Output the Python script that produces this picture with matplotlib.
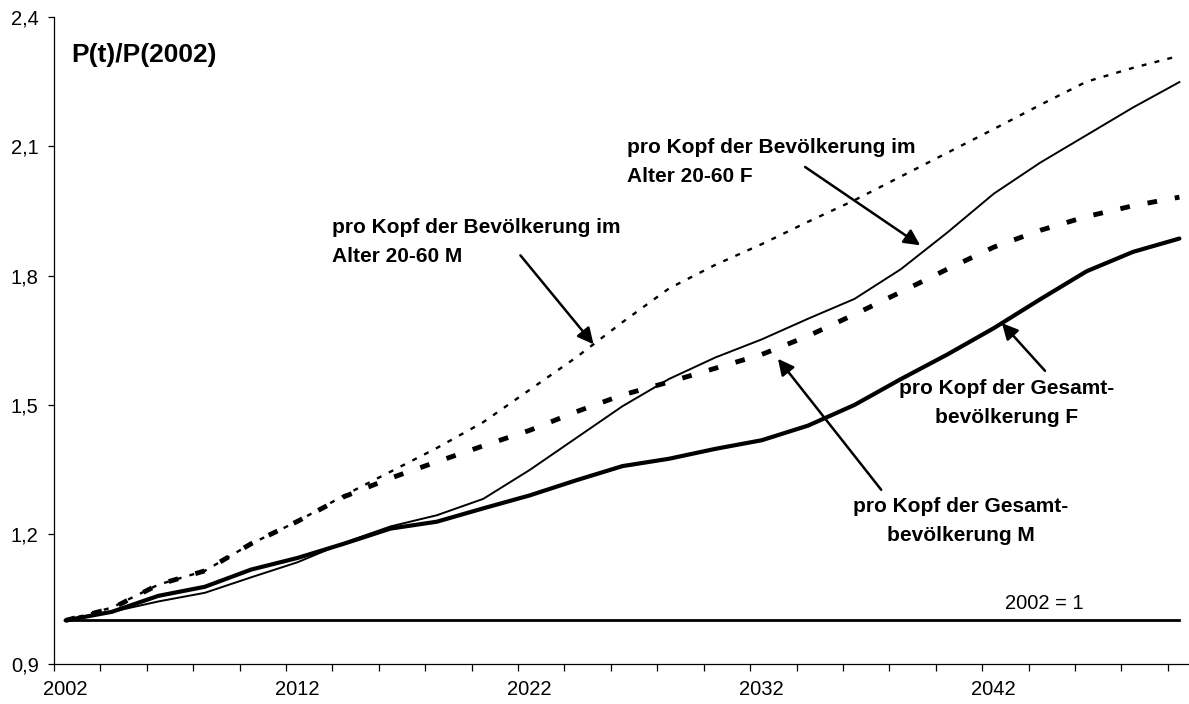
import numpy as np
import matplotlib
matplotlib.use("Agg")
import matplotlib.pyplot as plt

plt.rcParams['font.family'] = ['Liberation Sans', 'DejaVu Sans']

# values, every second year
years = np.arange(2002, 2051, 2)
alter_m = [1.000, 1.030, 1.083, 1.115, 1.178, 1.230, 1.290, 1.345, 1.400, 1.460,
           1.535, 1.610, 1.692, 1.770, 1.825, 1.873, 1.925, 1.975, 2.030, 2.085,
           2.140, 2.196, 2.250, 2.282, 2.310]
alter_f = [1.000, 1.020, 1.044, 1.064, 1.100, 1.135, 1.180, 1.218, 1.244, 1.282,
           1.349, 1.423, 1.497, 1.560, 1.610, 1.652, 1.700, 1.746, 1.815, 1.900,
           1.990, 2.062, 2.126, 2.190, 2.249]
gesamt_m = [1.000, 1.028, 1.083, 1.115, 1.178, 1.230, 1.287, 1.330, 1.368, 1.405,
            1.441, 1.484, 1.523, 1.553, 1.585, 1.617, 1.660, 1.710, 1.762, 1.815,
            1.866, 1.905, 1.937, 1.962, 1.982]
gesamt_f = [1.000, 1.020, 1.057, 1.078, 1.118, 1.145, 1.178, 1.213, 1.229, 1.260,
            1.290, 1.325, 1.358, 1.375, 1.398, 1.418, 1.452, 1.500, 1.560, 1.617,
            1.678, 1.745, 1.810, 1.855, 1.886]
base = [1.0] * len(years)

y_ticks = [0.9, 1.2, 1.5, 1.8, 2.1, 2.4]
x_labels = [2002, 2012, 2022, 2032, 2042]

fig = plt.figure(figsize=(11.89, 7.04), dpi=100)
ax = fig.add_axes([54 / 1189, 40.5 / 704, 1137 / 1189, 646.5 / 704])

ax.plot(years, base, color='black', lw=2.0)
ax.plot(years, alter_m, color='black', lw=1.7, dashes=(2.1, 3.5))
ax.plot(years, gesamt_m, color='black', lw=3.5, dashes=(2.0, 3.7))
ax.plot(years, alter_f, color='black', lw=1.4)
ax.plot(years, gesamt_f, color='black', lw=3.0, solid_capstyle='round')

ax.set_xlim(2001.5, 2050.5)
ax.set_ylim(0.9, 2.4)
for s in ['top', 'right']:
    ax.spines[s].set_visible(False)
for s in ['left', 'bottom']:
    ax.spines[s].set_linewidth(0.9)

ax.set_yticks(y_ticks)
ax.set_yticklabels([f"{v:.1f}".replace('.', ',') for v in y_ticks], fontsize=14.5)
ax.tick_params(axis='y', direction='out', length=4, width=0.9, pad=7)

ax.set_xticks(np.arange(2001.5, 2050, 2))
ax.set_xticklabels([])
ax.tick_params(axis='x', which='major', direction='out', length=5, width=0.9)
ax.set_xticks(x_labels, minor=True)
ax.set_xticklabels([str(y) for y in x_labels], minor=True, fontsize=14.5)
ax.tick_params(axis='x', which='minor', length=0, pad=12)

ax.text(2002.26, 2.295, "P(t)/P(2002)", fontsize=19, fontweight='bold', va='baseline')
ax.text(2044.17, 1.027, "2002 = 1", fontsize=14.5, ha='center', va='baseline')

arrow = dict(arrowstyle='-|>', color='black', lw=1.8, mutation_scale=24, shrinkA=0, shrinkB=0)
# va='baseline' puts the last line on the given y
lab = dict(fontsize=15, fontweight='bold', va='baseline', linespacing=1.67)

ax.text(2013.48, 1.832, "pro Kopf der Bevölkerung im\nAlter 20-60 M", ha='left', **lab)
ax.annotate("", xy=(2024.75, np.interp(2024.75, years, alter_m)), xytext=(2021.6, 1.847),
            arrowprops=arrow)

ax.text(2026.21, 2.017, "pro Kopf der Bevölkerung im\nAlter 20-60 F", ha='left', **lab)
ax.annotate("", xy=(2038.83, np.interp(2038.83, years, alter_f) + 0.02), xytext=(2033.87, 2.052),
            arrowprops=arrow)

ax.text(2042.56, 1.459, "pro Kopf der Gesamt-\nbevölkerung F", ha='center', multialignment='center', **lab)
ax.annotate("", xy=(2042.35, np.interp(2042.35, years, gesamt_f)), xytext=(2044.21, 1.579),
            arrowprops=arrow)

ax.text(2040.58, 1.184, "pro Kopf der Gesamt-\nbevölkerung M", ha='center', multialignment='center', **lab)
ax.annotate("", xy=(2032.7, np.interp(2032.7, years, gesamt_m) - 0.025), xytext=(2037.15, 1.303),
            arrowprops=arrow)

fig.savefig("out.png", dpi=100)
